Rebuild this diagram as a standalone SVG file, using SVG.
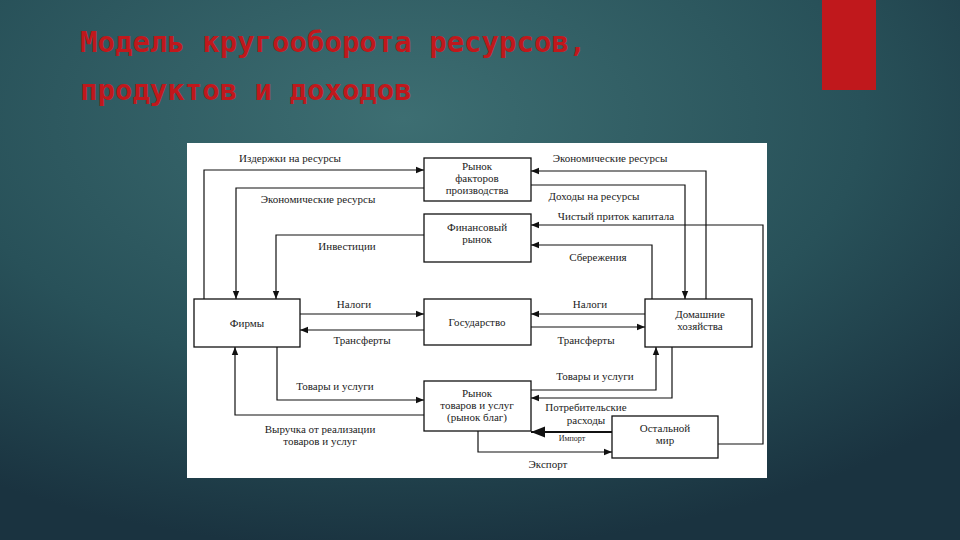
<svg xmlns="http://www.w3.org/2000/svg" width="960" height="540" viewBox="0 0 960 540">
<defs>
<radialGradient id="bg" cx="0.42" cy="0.22" r="0.8">
<stop offset="0" stop-color="#3d6e72"/><stop offset="0.6" stop-color="#285159"/><stop offset="1" stop-color="#1a3340"/>
</radialGradient>
<marker id="a" viewBox="0 0 10 10" refX="10" refY="5" markerWidth="7" markerHeight="7" orient="auto"><path d="M0,1 L10,5 L0,9 Z" fill="#111"/></marker>
</defs>
<style>
.b{fill:#fff;stroke:#111;stroke-width:1.3}
.t{font-family:"Liberation Serif",serif;font-size:11px;fill:#222;text-anchor:middle}
.c path{fill:none;stroke:#111;stroke-width:1.2;marker-end:url(#a)}
.h{font-family:"DejaVu Sans Mono",monospace;font-weight:bold;font-size:29px;fill:#c0181c}
</style>
<rect width="960" height="540" fill="url(#bg)"/>
<rect x="822" y="0" width="54" height="90" fill="#c0181c"/>
<text class="h" x="80" y="52">Модель кругооборота ресурсов,</text>
<text class="h" x="80" y="100">продуктов и доходов</text>
<rect x="187" y="143" width="580" height="335" fill="#fff"/>
<g class="c">
<path d="M204,299 V170 H424"/>
<path d="M424,188 H236 V299"/>
<path d="M424,235 H276 V299"/>
<path d="M706,299 V171 H531"/>
<path d="M531,185 H685 V299"/>
<path d="M718,444 H763 V225 H531"/>
<path d="M652,299 V245 H531"/>
<path d="M300,314 H424"/>
<path d="M424,330 H300"/>
<path d="M645,314 H531"/>
<path d="M531,327 H645"/>
<path d="M277,347 V400 H424"/>
<path d="M424,415 H235 V347"/>
<path d="M531,390 H656 V347"/>
<path d="M672,347 V398 H531"/>
<path d="M612,432 H531" style="stroke-width:2"/>
<path d="M478,431 V452 H612"/>
</g>
<g class="t">
<text x="290" y="162">Издержки на ресурсы</text>
<text x="318" y="203">Экономические ресурсы</text>
<text x="347" y="250">Инвестиции</text>
<text x="610" y="162">Экономические ресурсы</text>
<text x="594" y="200">Доходы на ресурсы</text>
<text x="616" y="220">Чистый приток капитала</text>
<text x="598" y="261">Сбережения</text>
<text x="354" y="308">Налоги</text>
<text x="362" y="344">Трансферты</text>
<text x="590" y="308">Налоги</text>
<text x="586" y="344">Трансферты</text>
<text x="335" y="390">Товары и услуги</text>
<text x="595" y="380">Товары и услуги</text>
<text x="586" y="411">Потребительские</text>
<text x="586" y="424">расходы</text>
<text x="320" y="433">Выручка от реализации</text>
<text x="320" y="445">товаров и услуг</text>
<text x="572" y="441" style="font-size:8px">Импорт</text>
<text x="548" y="468">Экспорт</text>
</g>
<g id="factors"><rect class="b" x="424" y="158" width="107" height="43"/><text class="t" x="477" y="170">Рынок</text><text class="t" x="477" y="182">факторов</text><text class="t" x="477" y="194">производства</text></g>
<g id="finance"><rect class="b" x="424" y="214" width="107" height="48"/><text class="t" x="477" y="231">Финансовый</text><text class="t" x="477" y="243">рынок</text></g>
<g id="state"><rect class="b" x="424" y="299" width="107" height="46"/><text class="t" x="477" y="326">Государство</text></g>
<g id="goods"><rect class="b" x="424" y="381" width="107" height="50"/><text class="t" x="477" y="397">Рынок</text><text class="t" x="477" y="409">товаров и услуг</text><text class="t" x="477" y="421">(рынок благ)</text></g>
<g id="firms"><rect class="b" x="194" y="299" width="106" height="48"/><text class="t" x="247" y="327">Фирмы</text></g>
<g id="households"><rect class="b" x="645" y="299" width="107" height="48"/><text class="t" x="700" y="318">Домашние</text><text class="t" x="700" y="330">хозяйства</text></g>
<g id="world"><rect class="b" x="612" y="416" width="106" height="42"/><text class="t" x="665" y="432">Остальной</text><text class="t" x="665" y="444">мир</text></g>
</svg>
